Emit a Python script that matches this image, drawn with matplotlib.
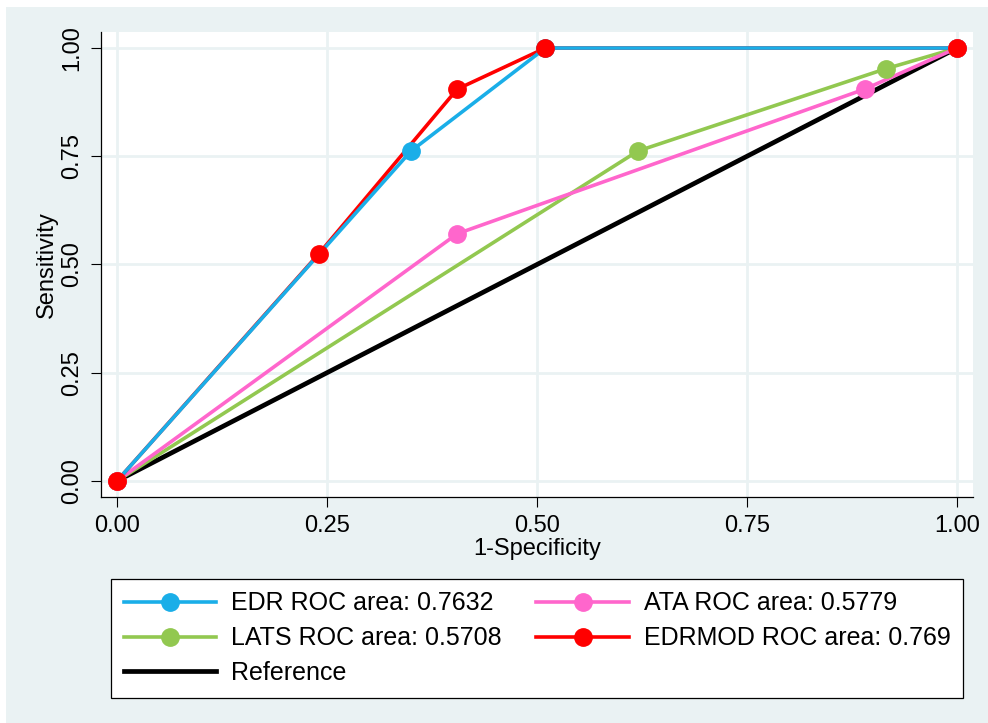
import numpy as np
import matplotlib
matplotlib.use("Agg")
import matplotlib.pyplot as plt
from matplotlib.patches import Rectangle

plt.rcParams['font.family'] = ['Liberation Sans', 'DejaVu Sans']

# ROC points (1-specificity, sensitivity)
edr_x = [0.0, 0.35, 0.51, 1.0]
edr_y = [0.0, 0.762, 1.0, 1.0]
ata_x = [0.0, 0.405, 0.89, 1.0]
ata_y = [0.0, 0.571, 0.905, 1.0]
lats_x = [0.0, 0.62, 0.915, 1.0]
lats_y = [0.0, 0.762, 0.952, 1.0]
edrmod_x = [0.0, 0.24, 0.405, 0.51, 1.0]
edrmod_y = [0.0, 0.524, 0.905, 1.0, 1.0]
ref_x = [0.0, 1.0]
ref_y = [0.0, 1.0]

labels = ['EDR ROC area: 0.7632', 'ATA ROC area: 0.5779',
          'LATS ROC area: 0.5708', 'EDRMOD ROC area: 0.769', 'Reference']
ticks = [0.0, 0.25, 0.5, 0.75, 1.0]
ticklabels = ['0.00', '0.25', '0.50', '0.75', '1.00']

c_edr = '#1AAEE8'
c_ata = '#FF66CC'
c_lats = '#92C850'
c_edrmod = '#FF0000'
bg = '#EAF2F3'

W, H = 988, 723
fig = plt.figure(figsize=(W / 100, H / 100), dpi=100)
fig.patch.set_facecolor('white')
fig.patches.append(Rectangle((6 / W, 0), 1 - 6 / W, 1 - 7 / H, transform=fig.transFigure,
                             facecolor=bg, edgecolor='none', zorder=-10))

ax = fig.add_axes([101 / W, 1 - 497 / H, (973 - 101) / W, (497 - 32) / H])
ax.set_facecolor('white')
ax.set_xlim(-0.019, 1.019)
ax.set_ylim(-0.037, 1.037)

lw = 2.6
ms = 12.5
ax.plot(ref_x, ref_y, color='black', lw=3.4, zorder=2)
ax.plot(lats_x, lats_y, color=c_lats, lw=lw, zorder=3)
ax.plot(ata_x, ata_y, color=c_ata, lw=lw, zorder=3.1)
ax.plot(edrmod_x, edrmod_y, color=c_edrmod, lw=lw, zorder=3.2)
ax.plot(edr_x, edr_y, color=c_edr, lw=lw, zorder=3.3)

ax.plot(edr_x, edr_y, 'o', color=c_edr, ms=ms, zorder=4)
ax.plot(lats_x, lats_y, 'o', color=c_lats, ms=ms, zorder=4.1)
ax.plot(ata_x, ata_y, 'o', color=c_ata, ms=ms, zorder=4.2)
ax.plot(edrmod_x, edrmod_y, 'o', color=c_edrmod, ms=ms, zorder=4.3)

ax.set_xticks(ticks)
ax.set_xticklabels(ticklabels)
ax.set_yticks(ticks)
ax.set_yticklabels(ticklabels, rotation=90, va='center')
ax.tick_params(axis='both', labelsize=17, length=7, width=0.8, pad=6)
ax.grid(True, color=bg, lw=2)
ax.set_axisbelow(True)
for s in ['top', 'right']:
    ax.spines[s].set_visible(False)
for s in ['left', 'bottom']:
    ax.spines[s].set_linewidth(0.9)

ax.set_xlabel('1-Specificity', fontsize=17, labelpad=1)
ax.set_ylabel('Sensitivity', fontsize=17, labelpad=2)

def handle(color, marker=True):
    return plt.Line2D([], [], color=color, lw=lw, marker='o' if marker else None, ms=ms)

h = [handle(c_edr), handle(c_lats), plt.Line2D([], [], color='black', lw=3.4),
     handle(c_ata), handle(c_edrmod)]
lab = [labels[0], labels[2], labels[4], labels[1], labels[3]]
leg = fig.legend(h, lab, ncol=2, loc='upper left',
                 bbox_to_anchor=(111 / W, 1 - 694 / H, (963 - 111) / W, (694 - 579) / H),
                 bbox_transform=fig.transFigure, mode='expand',
                 fontsize=18, frameon=True, fancybox=False, edgecolor='black',
                 framealpha=1, handlelength=3.7, handletextpad=0.6, labelspacing=0.43,
                 borderpad=0.5, borderaxespad=0)
leg.get_frame().set_linewidth(0.9)

fig.savefig('out.png', dpi=100, facecolor=fig.get_facecolor())
